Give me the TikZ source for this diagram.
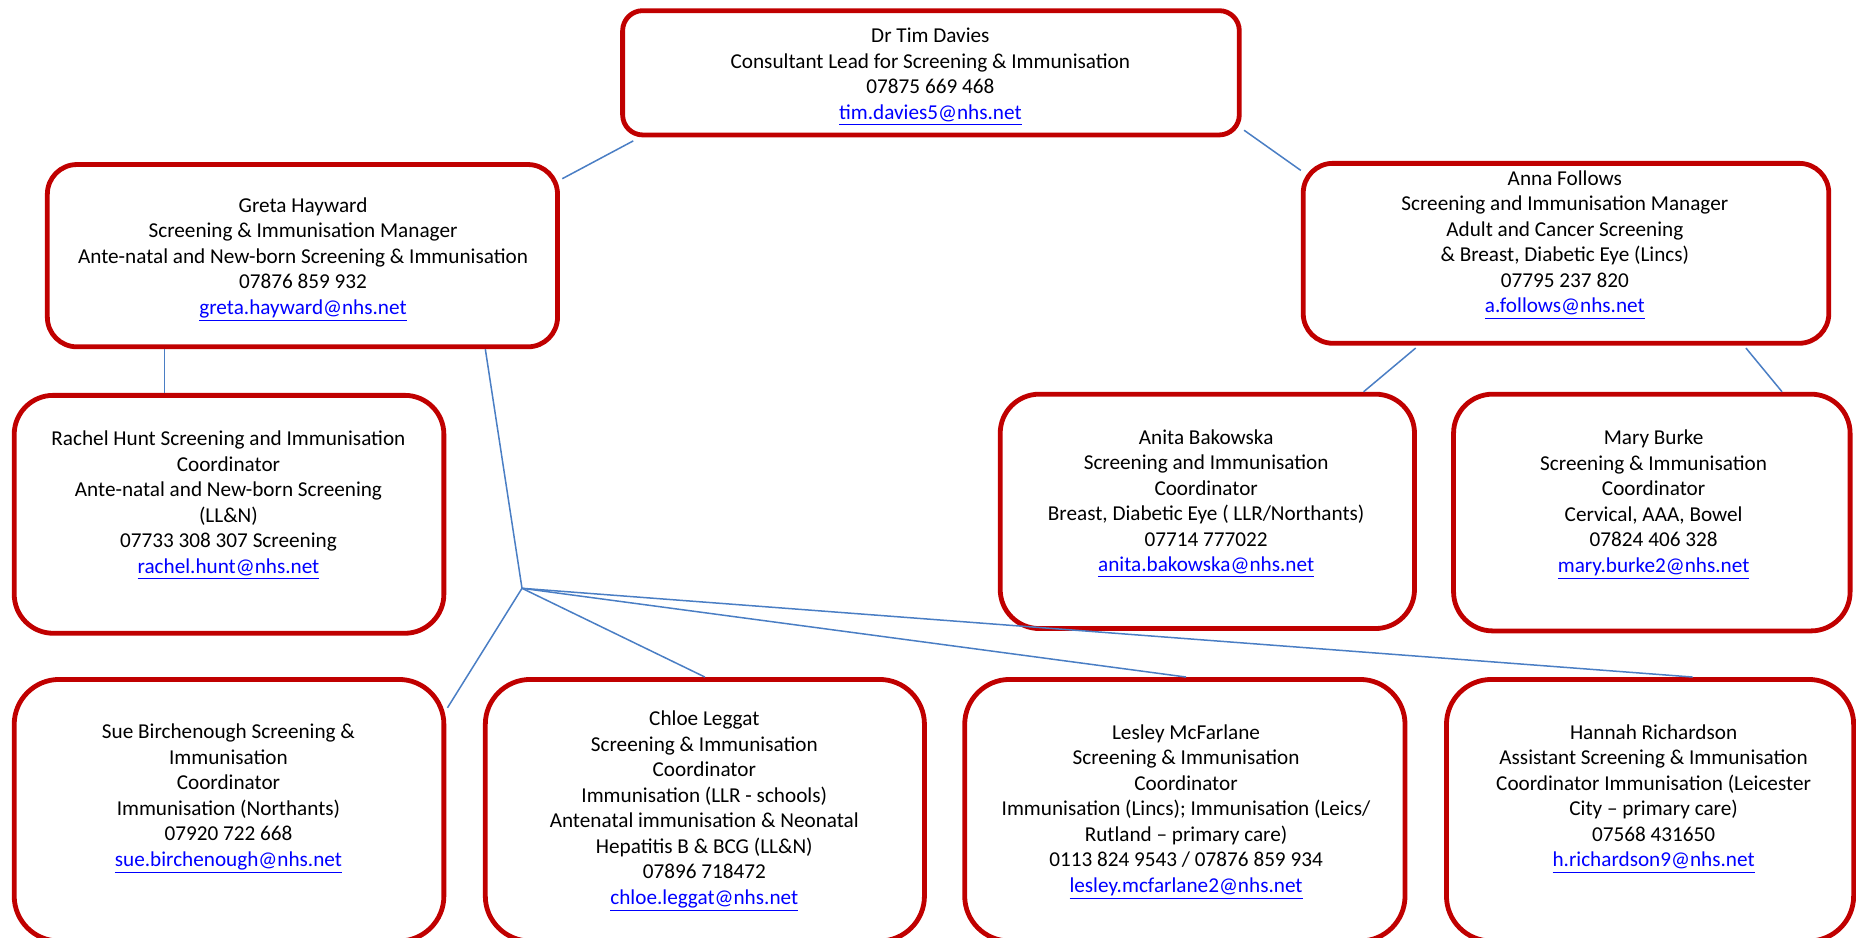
\documentclass[tikz,border=0pt]{standalone}
\usepackage{fontspec}
\setmainfont{Carlito}
\usetikzlibrary{calc}
\definecolor{boxred}{HTML}{C00000}
\definecolor{linkblue}{HTML}{0000FF}
\definecolor{wireblue}{HTML}{4A7EC4}
\newcommand\emaillink[1]{\textcolor{linkblue}{\underline{#1}}}
\def\ux{0.59185pt}
\begin{document}
\begin{tikzpicture}[x=0.59185pt,y=-0.59185pt,
  box/.style={draw=boxred,line width=2.4pt,inner sep=0pt},
  txt/.style={align=center,inner sep=0pt,font=\fontsize{10.6}{12.75}\selectfont},
  wire/.style={draw=wireblue,line width=0.75pt}]
\useasboundingbox (0,0) rectangle (1568,792);
\clip (0,0) rectangle (1568,792);
% boxes
\node[box,minimum width=521*\ux,minimum height=105*\ux,rounded corners=17*\ux] (tim) at (786.5,61.5) {};
\node[box,minimum width=431*\ux,minimum height=154*\ux,rounded corners=25*\ux] (greta) at (255.5,216) {};
\node[box,minimum width=444*\ux,minimum height=152*\ux,rounded corners=25*\ux] (anna) at (1323,214) {};
\node[box,minimum width=363*\ux,minimum height=201*\ux,rounded corners=33*\ux] (rachel) at (193.5,434.5) {};
\node[box,minimum width=350*\ux,minimum height=198*\ux,rounded corners=33*\ux] (anita) at (1020,432) {};
\node[box,minimum width=335*\ux,minimum height=200*\ux,rounded corners=33*\ux] (mary) at (1395.5,433) {};
\node[box,minimum width=363*\ux,minimum height=221*\ux,rounded corners=38*\ux] (sue) at (193.5,684.5) {};
\node[box,minimum width=371*\ux,minimum height=221*\ux,rounded corners=38*\ux] (chloe) at (595.5,684.5) {};
\node[box,minimum width=372*\ux,minimum height=221*\ux,rounded corners=38*\ux] (lesley) at (1001,684.5) {};
\node[box,minimum width=344*\ux,minimum height=221*\ux,rounded corners=38*\ux] (hannah) at (1394,684.5) {};
% texts
\node[txt] (tim-t) at (786,65) {Dr Tim Davies\\Consultant Lead for Screening \& Immunisation\\07875 669 468\\\emaillink{tim.davies5@nhs.net}};
\node[txt] (greta-t) at (256,219.5) {Greta Hayward\\Screening \& Immunisation Manager\\Ante-natal and New-born Screening \& Immunisation\\07876 859 932\\\emaillink{greta.hayward@nhs.net}};
\node[txt] (anna-t) at (1322,207) {Anna Follows\\Screening and Immunisation Manager\\Adult and Cancer Screening\\\& Breast, Diabetic Eye (Lincs)\\07795 237 820\\\emaillink{a.follows@nhs.net}};
\node[txt] (rachel-t) at (193,427) {Rachel Hunt Screening and Immunisation\\Coordinator\\Ante-natal and New-born Screening\\(LL\&N)\\07733 308 307 Screening\\\emaillink{rachel.hunt@nhs.net}};
\node[txt] (anita-t) at (1019,425.5) {Anita Bakowska\\Screening and Immunisation\\Coordinator\\Breast, Diabetic Eye ( LLR/Northants)\\07714 777022\\\emaillink{anita.bakowska@nhs.net}};
\node[txt] (mary-t) at (1397,426.5) {Mary Burke\\Screening \& Immunisation\\Coordinator\\Cervical, AAA, Bowel\\07824 406 328\\\emaillink{mary.burke2@nhs.net}};
\node[txt] (sue-t) at (193,675) {Sue Birchenough Screening \&\\Immunisation\\Coordinator\\Immunisation (Northants)\\07920 722 668\\\emaillink{sue.birchenough@nhs.net}};
\node[txt] (chloe-t) at (595,685.5) {Chloe Leggat\\Screening \& Immunisation\\Coordinator\\Immunisation (LLR - schools)\\Antenatal immunisation \& Neonatal\\Hepatitis B \& BCG (LL\&N)\\07896 718472\\\emaillink{chloe.leggat@nhs.net}};
\node[txt] (lesley-t) at (1002,686) {Lesley McFarlane\\Screening \& Immunisation\\Coordinator\\Immunisation (Lincs); Immunisation (Leics/\\Rutland -- primary care)\\0113 824 9543 / 07876 859 934\\\emaillink{lesley.mcfarlane2@nhs.net}};
\node[txt] (hannah-t) at (1397,675) {Hannah Richardson\\Assistant Screening \& Immunisation\\Coordinator Immunisation (Leicester\\City -- primary care)\\07568 431650\\\emaillink{h.richardson9@nhs.net}};
% connectors
\coordinate (hub) at (441,497);
\draw[wire] ($(tim.south west)+(11,3)$) -- ($(greta.north east)+(2,14)$);
\draw[wire] ($(tim.south east)+(2,-6)$) -- ($(anna.north west)+(0,8)$);
\draw[wire] ($(greta.south west)+(101,0)$) -- ($(rachel.north west)+(129,0)$);
\draw[wire] ($(greta.south east)+(-63,0)$) -- (hub);
\draw[wire] (hub) -- ($(sue.north east)+(1,26)$);
\draw[wire] (hub) -- (chloe.north);
\draw[wire] (hub) -- ($(lesley.north)+(1,0)$);
\draw[wire] (hub) -- ($(hannah.north)+(36,0)$);
\draw[wire] ($(anna.south)+(-127,2)$) -- ($(anita.north)+(132,0)$);
\draw[wire] ($(anna.south)+(152,2)$) -- ($(mary.north)+(110,0)$);
\end{tikzpicture}
\end{document}
